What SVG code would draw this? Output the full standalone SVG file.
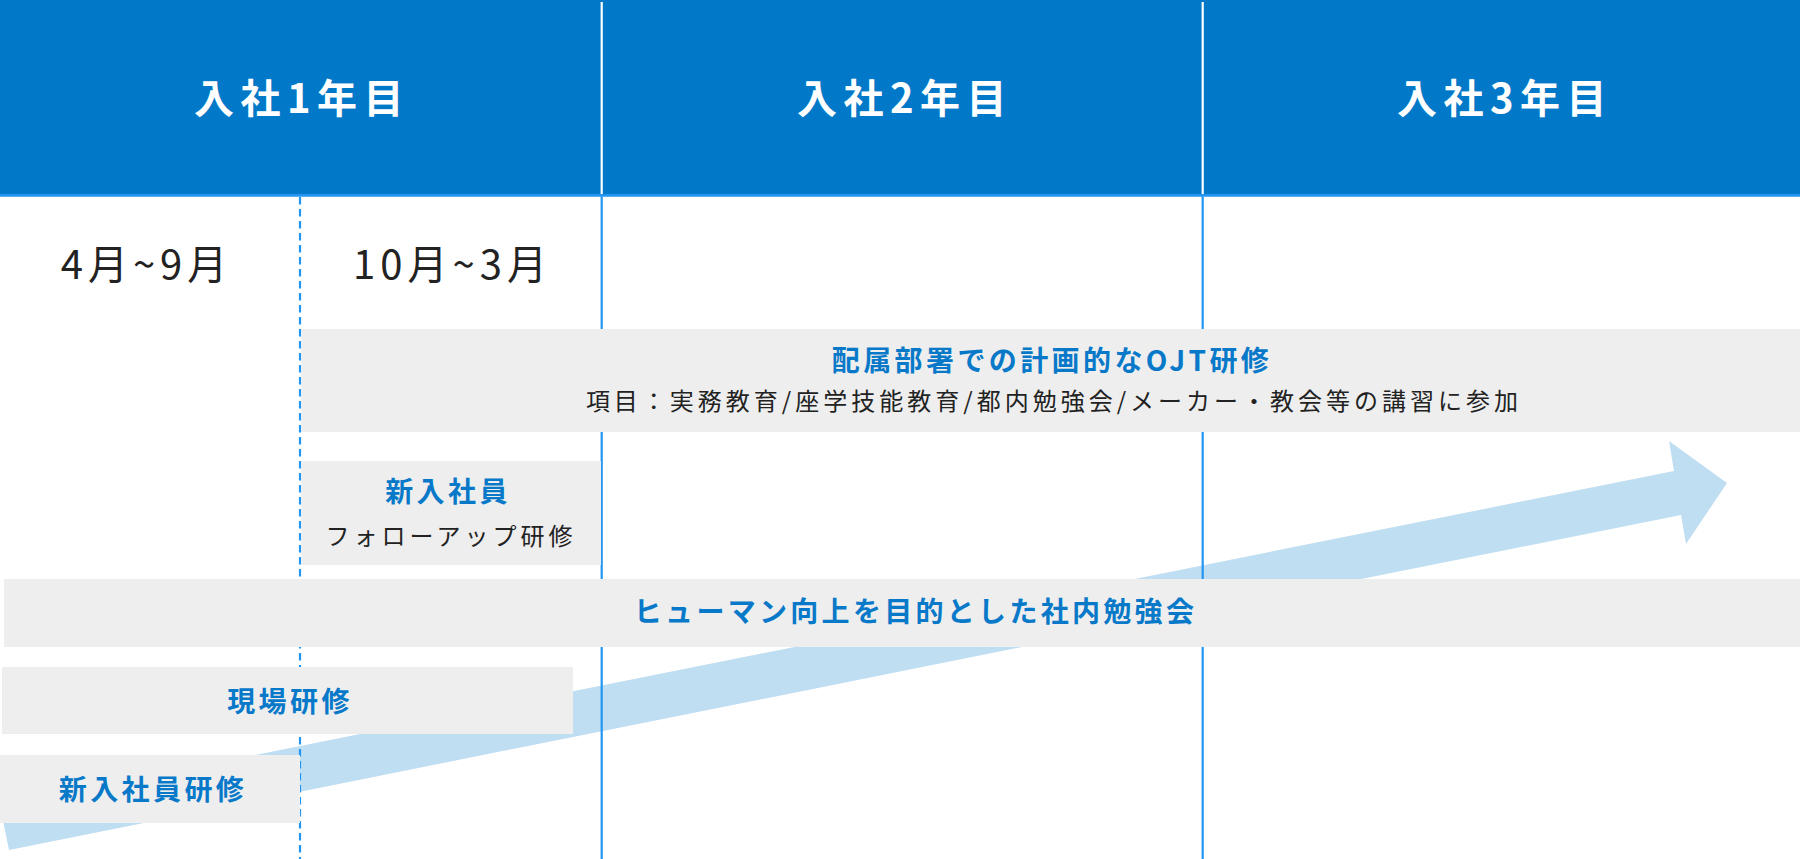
<svg xmlns="http://www.w3.org/2000/svg" width="1800" height="859" viewBox="0 0 1800 859">
<style>
.hd{font-family:"Noto Sans CJK JP","Noto Sans",sans-serif;font-weight:700;font-size:40px;fill:#fff;letter-spacing:6.5px;text-anchor:middle}
.mo{font-family:"Noto Sans CJK JP","Noto Sans",sans-serif;font-weight:400;font-size:40px;fill:#222;letter-spacing:5px;text-anchor:middle}
.box{fill:#eeeeee}
.t{font-family:"Noto Sans CJK JP","Noto Sans",sans-serif;font-weight:700;font-size:28px;fill:#0879c9;letter-spacing:3.4px;text-anchor:middle}
.s{font-family:"Noto Sans CJK JP","Noto Sans",sans-serif;font-weight:400;font-size:24px;fill:#222;letter-spacing:4px;text-anchor:middle}
.vl{stroke:#2196f3;stroke-width:2.2;fill:none}
.wl{stroke:#ffffff;stroke-width:2.2;fill:none}
</style>
<rect width="1800" height="859" fill="#ffffff"/>
<g id="header">
  <rect x="0" y="0" width="1800" height="194" fill="#0279c8"/>
  <line class="wl" x1="601.7" y1="2" x2="601.7" y2="194"/>
  <line class="wl" x1="1202.7" y1="2" x2="1202.7" y2="194"/>
  <line x1="0" y1="195.4" x2="1800" y2="195.4" stroke="#2196f3" stroke-width="2.6"/>
  <text class="hd" x="302" y="113">入社1年目</text>
  <text class="hd" x="905" y="113">入社2年目</text>
  <text class="hd" x="1505" y="113">入社3年目</text>
</g>
<g id="arrow">
  <polygon points="0,806 1674,471 1669,441 1727,483 1686,544 1681,515 9,850" fill="#bfdef2"/>
</g>
<g id="gridlines">
  <line class="vl" x1="300" y1="197" x2="300" y2="859" stroke-dasharray="7.5 4.5"/>
  <line class="vl" x1="601.7" y1="196.5" x2="601.7" y2="859"/>
  <line class="vl" x1="1202.7" y1="196.5" x2="1202.7" y2="859"/>
</g>
<g id="months">
  <text class="mo" x="146.5" y="279">4月~9月</text>
  <text class="mo" x="452.5" y="279">10月~3月</text>
</g>
<g id="ojt">
  <rect class="box" x="301" y="329" width="1499" height="103"/>
  <text class="t" x="1052" y="371">配属部署での計画的なOJT研修</text>
  <text class="s" x="1054" y="410">項目：実務教育/座学技能教育/都内勉強会/メーカー・教会等の講習に参加</text>
</g>
<g id="followup">
  <rect class="box" x="301" y="461" width="300" height="104"/>
  <text class="t" x="448" y="502">新入社員</text>
  <text class="s" x="451" y="545">フォローアップ研修</text>
</g>
<g id="human">
  <rect class="box" x="4" y="579" width="1796" height="68"/>
  <text class="t" x="915.5" y="622" style="letter-spacing:3.3px">ヒューマン向上を目的とした社内勉強会</text>
</g>
<g id="genba">
  <rect class="box" x="2" y="667" width="571" height="67"/>
  <text class="t" x="290" y="712">現場研修</text>
</g>
<g id="shinnyu">
  <rect class="box" x="0" y="755" width="300" height="68"/>
  <text class="t" x="153" y="800">新入社員研修</text>
</g>
</svg>
